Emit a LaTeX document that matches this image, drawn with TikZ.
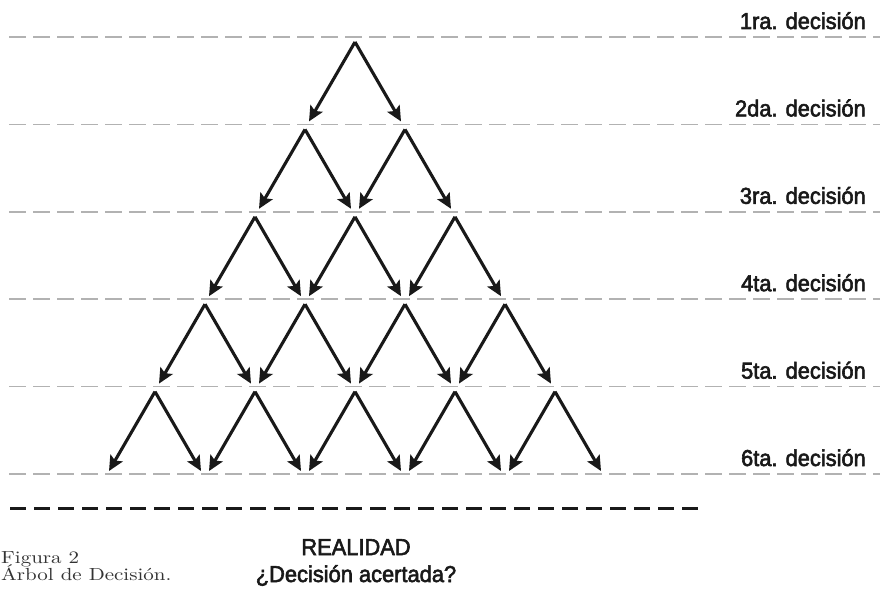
\documentclass[tikz,border=0pt]{standalone}
\usepackage{fontspec}
\setsansfont{Liberation Sans}[FakeBold=2.5,FakeStretch=0.95]
\newfontfamily\capfont[FakeStretch=1.2]{lmroman10-regular.otf}
\usetikzlibrary{arrows.meta}
\begin{document}
\begin{tikzpicture}[x=1pt,y=-1pt,
  guide/.style={draw=gray!60, line width=1.5pt, dash pattern=on 16.5pt off 7.5pt},
  baseline/.style={draw=black!90, line width=3pt, dash pattern=on 16pt off 8pt},
  branch/.style={draw=black!90, line width=3.1pt, -{Stealth[length=15pt,width=14pt,inset=3pt]}},
  lbl/.style={font=\sffamily\fontsize{23}{26}\selectfont, text=black!90, anchor=base east, inner sep=0pt},
  bottomlbl/.style={font=\sffamily\fontsize{23}{26}\selectfont, text=black!90, anchor=base, inner sep=0pt},
  caption/.style={font=\capfont\fontsize{17.5}{15}\selectfont, text=black!80, anchor=base west, inner sep=0pt}]
\useasboundingbox (0,0) rectangle (880,594);
% guide lines
\foreach \k in {0,...,5}
  \draw[guide] ({9},{37+87.4*\k}) -- ({880},{37+87.4*\k});
% bottom line
\draw[baseline] (10,508) -- (698,508);
% labels
\foreach \k/\t in {0/1ra., 1/2da., 2/3ra., 3/4ta., 4/5ta., 5/6ta.}
  \node[lbl] (lab\k) at ({866},{29+87.4*\k}) {\t{} decisión};
% tree
\foreach \k in {0,...,4}{
  \foreach \j in {0,...,\k}{
    \coordinate (a-\k-\j) at ({355+100*(\j-\k/2)},{42+87.4*\k});
    \coordinate (l-\k-\j) at ({355+100*(\j-\k/2)-46},{37+87.4*(\k+1)-3});
    \coordinate (r-\k-\j) at ({355+100*(\j-\k/2)+46},{37+87.4*(\k+1)-3});
    \draw[branch] (a-\k-\j) -- (l-\k-\j);
    \draw[branch] (a-\k-\j) -- (r-\k-\j);
  }
}
% bottom texts
\node[bottomlbl] (real) at (356,555) {REALIDAD};
\node[bottomlbl] (quest) at (356,582) {¿Decisión acertada?};
\node[caption] (fig) at (1,563) {Figura 2};
\node[caption] (arb) at (1,580) {Árbol de Decisión.};
\end{tikzpicture}
\end{document}
